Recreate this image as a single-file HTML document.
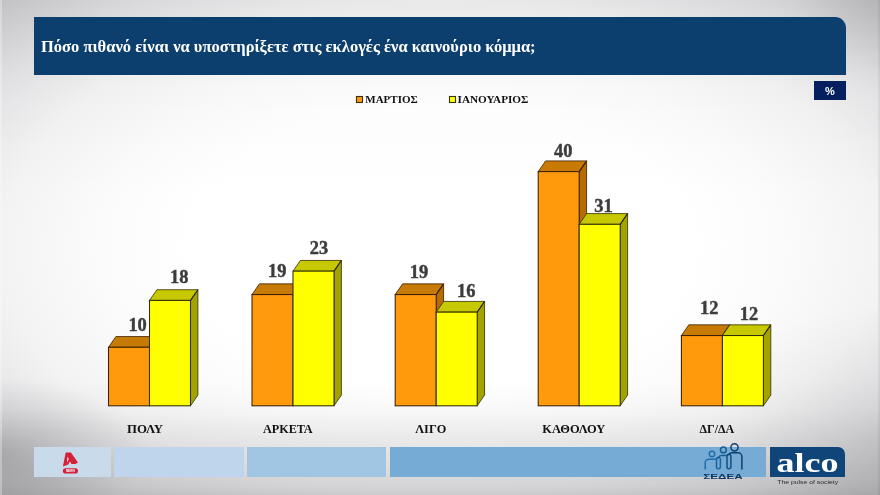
<!DOCTYPE html>
<html><head><meta charset="utf-8"><title>chart</title>
<style>
html,body{margin:0;padding:0;}
body{width:880px;height:495px;overflow:hidden;position:relative;font-family:"Liberation Serif",serif;
background:
 radial-gradient(ellipse 170px 120px at 100% 86%, rgba(0,0,10,.06) 0%, rgba(0,0,10,.03) 50%, rgba(0,0,10,0) 100%),
 radial-gradient(circle 90px at 100% 0%, rgba(0,0,10,.075) 0%, rgba(0,0,10,0) 100%),
 radial-gradient(ellipse 150px 75px at 0% 91.5%, rgba(0,0,10,.15) 0%, rgba(0,0,10,.075) 50%, rgba(0,0,10,0) 100%),
 linear-gradient(to bottom, rgba(0,0,8,.043) 0px, rgba(0,0,8,.01) 90px, rgba(0,0,8,0) 200px, rgba(0,0,8,0) 380px, rgba(0,0,8,.02) 410px, rgba(0,0,8,.07) 440px, rgba(0,0,8,.125) 485px, rgba(0,0,8,.16) 495px),
 radial-gradient(ellipse farthest-corner at 50% 50%, #ffffff 0%, #ffffff 40%, #fbfbfb 55%, #f3f3f4 70.7%, #e3e3e5 85%, #cbcbce 100%);}
#banner{position:absolute;left:34px;top:17px;width:812px;height:58px;background:#0c3f6d;border-top-right-radius:11px;}
#title{position:absolute;left:41.4px;top:37px;color:#fff;font-weight:bold;font-size:16.5px;line-height:20px;white-space:nowrap;}
#pct{position:absolute;left:814px;top:81px;width:32px;height:19px;background:#04205e;}
#pct span{display:block;color:#fff;font:bold 11px/19px "Liberation Sans",sans-serif;text-align:center;transform:translate(0px,0.6px);}
svg{position:absolute;left:0;top:0;will-change:transform;}
#title,#pct{will-change:transform;}
.v{font:bold 18.4px "Liberation Serif",serif;fill:#3c3c3c;stroke:#3c3c3c;stroke-width:.45px;text-anchor:middle;}
.l{font:bold 13.4px "Liberation Serif",serif;fill:#111;text-anchor:middle;}
.g{font:bold 11px "Liberation Serif",serif;fill:#111;}
.seg{position:absolute;top:446.5px;height:30.5px;}
</style></head><body>
<div style="position:absolute;left:0;top:0;width:1.5px;height:495px;background:rgba(255,255,255,.3)"></div>
<div style="position:absolute;left:878px;top:0;width:2px;height:495px;background:rgba(0,0,10,.06)"></div>
<div id="banner"></div>
<div id="title">Πόσο πιθανό είναι να υποστηρίξετε στις εκλογές ένα καινούριο κόμμα;</div>
<div id="pct"><span>%</span></div>
<div class="seg" style="left:33.5px;width:77px;background:#c9dbeb"></div>
<div class="seg" style="left:114px;width:130px;background:#bfd5eb"></div>
<div class="seg" style="left:247px;width:139px;background:#a1c6e3"></div>
<div class="seg" style="left:390px;width:376px;background:#75abd5"></div>
<div class="seg" style="left:770px;width:75px;background:#10457a;border-top-right-radius:7px"></div>
<svg width="880" height="495" viewBox="0 0 880 495">
<rect x="356.5" y="96.5" width="6" height="6" fill="#ff9a0c" stroke="#3a2a10" stroke-width="1.1"/>
<text x="365.3" y="103.2" class="g">ΜΑΡΤΙΟΣ</text>
<rect x="449.5" y="96.5" width="6" height="6" fill="#ffff00" stroke="#33330a" stroke-width="1.1"/>
<text x="457.6" y="103.2" class="g" style="font-size:11.2px">ΙΑΝΟΥΑΡΙΟΣ</text>
<polygon points="149.5,347.25 156.9,336.55 156.9,395.1 149.5,405.8" fill="#b56c00" stroke="#3a2000" stroke-width="0.8" stroke-linejoin="round"/>
<polygon points="108.5,347.25 115.9,336.55 156.9,336.55 149.5,347.25" fill="#c87a06" stroke="#3a2000" stroke-width="0.8" stroke-linejoin="round"/>
<rect x="108.5" y="347.25" width="41.0" height="58.55000000000001" fill="#ff9a0c" stroke="#3a2000" stroke-width="1.05"/>
<line x1="149.5" y1="347.25" x2="156.9" y2="336.55" stroke="#3a2000" stroke-width="1.1"/>
<polygon points="190.5,300.40999999999997 197.9,289.71 197.9,395.1 190.5,405.8" fill="#a3a300" stroke="#2e2e00" stroke-width="0.8" stroke-linejoin="round"/>
<polygon points="149.5,300.40999999999997 156.9,289.71 197.9,289.71 190.5,300.40999999999997" fill="#c8c800" stroke="#2e2e00" stroke-width="0.8" stroke-linejoin="round"/>
<rect x="149.5" y="300.40999999999997" width="41.0" height="105.39000000000004" fill="#ffff00" stroke="#2e2e00" stroke-width="1.05"/>
<line x1="190.5" y1="300.40999999999997" x2="197.9" y2="289.71" stroke="#2e2e00" stroke-width="1.1"/>
<text x="137.6" y="331.4" class="v">10</text>
<text x="179.2" y="282.9" class="v">18</text>
<text x="145" y="433.3" class="l" textLength="35.8" lengthAdjust="spacingAndGlyphs">ΠΟΛΥ</text>
<polygon points="293.0,294.555 300.4,283.855 300.4,395.1 293.0,405.8" fill="#b56c00" stroke="#3a2000" stroke-width="0.8" stroke-linejoin="round"/>
<polygon points="252.0,294.555 259.4,283.855 300.4,283.855 293.0,294.555" fill="#c87a06" stroke="#3a2000" stroke-width="0.8" stroke-linejoin="round"/>
<rect x="252.0" y="294.555" width="41.0" height="111.245" fill="#ff9a0c" stroke="#3a2000" stroke-width="1.05"/>
<line x1="293.0" y1="294.555" x2="300.4" y2="283.855" stroke="#3a2000" stroke-width="1.1"/>
<polygon points="334.0,271.135 341.4,260.435 341.4,395.1 334.0,405.8" fill="#a3a300" stroke="#2e2e00" stroke-width="0.8" stroke-linejoin="round"/>
<polygon points="293.0,271.135 300.4,260.435 341.4,260.435 334.0,271.135" fill="#c8c800" stroke="#2e2e00" stroke-width="0.8" stroke-linejoin="round"/>
<rect x="293.0" y="271.135" width="41.0" height="134.66500000000002" fill="#ffff00" stroke="#2e2e00" stroke-width="1.05"/>
<line x1="334.0" y1="271.135" x2="341.4" y2="260.435" stroke="#2e2e00" stroke-width="1.1"/>
<text x="277.2" y="276.7" class="v">19</text>
<text x="319.0" y="254.0" class="v">23</text>
<text x="287.8" y="433.3" class="l" textLength="49.6" lengthAdjust="spacingAndGlyphs">ΑΡΚΕΤΑ</text>
<polygon points="436.2,294.555 443.59999999999997,283.855 443.59999999999997,395.1 436.2,405.8" fill="#b56c00" stroke="#3a2000" stroke-width="0.8" stroke-linejoin="round"/>
<polygon points="395.2,294.555 402.59999999999997,283.855 443.59999999999997,283.855 436.2,294.555" fill="#c87a06" stroke="#3a2000" stroke-width="0.8" stroke-linejoin="round"/>
<rect x="395.2" y="294.555" width="41.0" height="111.245" fill="#ff9a0c" stroke="#3a2000" stroke-width="1.05"/>
<line x1="436.2" y1="294.555" x2="443.59999999999997" y2="283.855" stroke="#3a2000" stroke-width="1.1"/>
<polygon points="477.2,312.12 484.59999999999997,301.42 484.59999999999997,395.1 477.2,405.8" fill="#a3a300" stroke="#2e2e00" stroke-width="0.8" stroke-linejoin="round"/>
<polygon points="436.2,312.12 443.59999999999997,301.42 484.59999999999997,301.42 477.2,312.12" fill="#c8c800" stroke="#2e2e00" stroke-width="0.8" stroke-linejoin="round"/>
<rect x="436.2" y="312.12" width="41.0" height="93.68" fill="#ffff00" stroke="#2e2e00" stroke-width="1.05"/>
<line x1="477.2" y1="312.12" x2="484.59999999999997" y2="301.42" stroke="#2e2e00" stroke-width="1.1"/>
<text x="419.0" y="278.3" class="v">19</text>
<text x="466.2" y="296.7" class="v">16</text>
<text x="430.8" y="433.3" class="l" textLength="31.0" lengthAdjust="spacingAndGlyphs">ΛΙΓΟ</text>
<polygon points="579.2,171.6 586.6,160.9 586.6,395.1 579.2,405.8" fill="#b56c00" stroke="#3a2000" stroke-width="0.8" stroke-linejoin="round"/>
<polygon points="538.2,171.6 545.6,160.9 586.6,160.9 579.2,171.6" fill="#c87a06" stroke="#3a2000" stroke-width="0.8" stroke-linejoin="round"/>
<rect x="538.2" y="171.6" width="41.0" height="234.20000000000002" fill="#ff9a0c" stroke="#3a2000" stroke-width="1.05"/>
<line x1="579.2" y1="171.6" x2="586.6" y2="160.9" stroke="#3a2000" stroke-width="1.1"/>
<polygon points="620.2,224.295 627.6,213.595 627.6,395.1 620.2,405.8" fill="#a3a300" stroke="#2e2e00" stroke-width="0.8" stroke-linejoin="round"/>
<polygon points="579.2,224.295 586.6,213.595 627.6,213.595 620.2,224.295" fill="#c8c800" stroke="#2e2e00" stroke-width="0.8" stroke-linejoin="round"/>
<rect x="579.2" y="224.295" width="41.0" height="181.50500000000002" fill="#ffff00" stroke="#2e2e00" stroke-width="1.05"/>
<line x1="620.2" y1="224.295" x2="627.6" y2="213.595" stroke="#2e2e00" stroke-width="1.1"/>
<text x="563.2" y="156.8" class="v">40</text>
<text x="603.5" y="211.8" class="v">31</text>
<text x="573.8" y="433.3" class="l" textLength="62.9" lengthAdjust="spacingAndGlyphs">ΚΑΘΟΛΟΥ</text>
<polygon points="722.4,335.54 729.8,324.84000000000003 729.8,395.1 722.4,405.8" fill="#b56c00" stroke="#3a2000" stroke-width="0.8" stroke-linejoin="round"/>
<polygon points="681.4,335.54 688.8,324.84000000000003 729.8,324.84000000000003 722.4,335.54" fill="#c87a06" stroke="#3a2000" stroke-width="0.8" stroke-linejoin="round"/>
<rect x="681.4" y="335.54" width="41.0" height="70.25999999999999" fill="#ff9a0c" stroke="#3a2000" stroke-width="1.05"/>
<line x1="722.4" y1="335.54" x2="729.8" y2="324.84000000000003" stroke="#3a2000" stroke-width="1.1"/>
<polygon points="763.4,335.54 770.8,324.84000000000003 770.8,395.1 763.4,405.8" fill="#a3a300" stroke="#2e2e00" stroke-width="0.8" stroke-linejoin="round"/>
<polygon points="722.4,335.54 729.8,324.84000000000003 770.8,324.84000000000003 763.4,335.54" fill="#c8c800" stroke="#2e2e00" stroke-width="0.8" stroke-linejoin="round"/>
<rect x="722.4" y="335.54" width="41.0" height="70.25999999999999" fill="#ffff00" stroke="#2e2e00" stroke-width="1.05"/>
<line x1="763.4" y1="335.54" x2="770.8" y2="324.84000000000003" stroke="#2e2e00" stroke-width="1.1"/>
<text x="709.2" y="313.6" class="v">12</text>
<text x="748.9" y="320.4" class="v">12</text>
<text x="716.9" y="433.3" class="l" textLength="34.8" lengthAdjust="spacingAndGlyphs">ΔΓ/ΔΑ</text>
<!-- alpha logo -->
<path d="M65.7 452.6 L70.9 452.6 L78.0 462.4 L75.5 463.9 L71.6 464.0 L69.8 461.4 L68.3 464.6 L62.9 466.5 Z" fill="#d6203a"/>
<path d="M67.4 456.6 L68.8 459.1 L67.0 462.7 Z" fill="#f2e6ea"/>
<rect x="62.9" y="468.2" width="15.1" height="5.3" rx="2.6" fill="#d6203a"/>
<text x="70.45" y="472.2" textLength="9" lengthAdjust="spacingAndGlyphs" style="font:bold 3.6px 'Liberation Sans',sans-serif;fill:#fff;text-anchor:middle">NEWS</text>
<!-- sedea logo -->
<g fill="none" stroke-width="1.5" stroke-linecap="round">
<circle cx="712" cy="454" r="2.7" stroke="#1f6fae"/>
<path d="M705.2 469.0 V462.8 a3.6 3.6 0 0 1 3.6 -3.6 h5.6 q2.2 0 3.2 -1.6" stroke="#1f6fae"/>
<rect x="716.5" y="457.4" width="3.9" height="11.4" rx="1.95" stroke="#1a65a0"/>
<circle cx="723.4" cy="449.9" r="2.9" stroke="#175d95"/>
<path d="M718.6 457.4 q0.6 -2.0 3.0 -2.0 h4.6 q2.0 0 2.8 -1.2" stroke="#175d95"/>
<rect x="727.0" y="454.3" width="3.9" height="14.5" rx="1.95" stroke="#134f84"/>
<circle cx="734.5" cy="447.3" r="3.6" stroke="#0f3f70"/>
<path d="M729.2 454.3 q0.6 -1.5 2.8 -1.5 h6.0 a3.9 3.9 0 0 1 3.9 3.9 V469.0" stroke="#0f3f70"/>
</g>
<text x="703.3" y="478.6" textLength="39.4" lengthAdjust="spacingAndGlyphs" style="font:bold 7.7px 'Liberation Sans',sans-serif;fill:#0f3560">ΣΕΔΕΑ</text>
<!-- alco -->
<text x="776.5" y="471.8" textLength="62.0" lengthAdjust="spacingAndGlyphs" style="font:bold 28.3px 'Liberation Serif',serif;fill:#fff">alco</text>
<text x="777.3" y="483.6" textLength="60.8" lengthAdjust="spacingAndGlyphs" style="font:5.4px 'Liberation Sans',sans-serif;fill:#2c2c30">The pulse of society</text>

</svg>
</body></html>
